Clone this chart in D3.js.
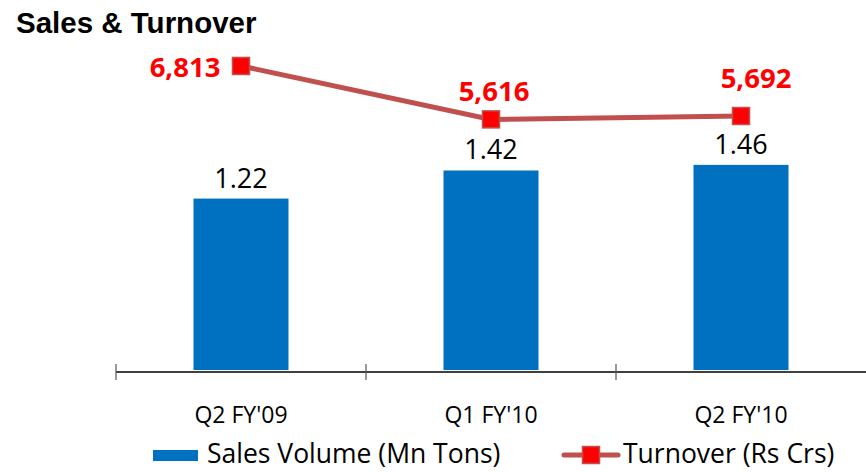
<!DOCTYPE html>
<html>
<head>
<meta charset="utf-8">
<script src="https://cdn.jsdelivr.net/npm/d3@7"></script>
<style>
  body { margin: 0; background: #fff; }
  svg { display: block; }
  .title { font-family: "Liberation Sans", Arial, sans-serif; font-weight: bold; }
  .lbl { font-family: "Open Sans", sans-serif; }
</style>
</head>
<body>
<div id="chart"></div>
<script>
const categories = ["Q2 FY'09", "Q1 FY'10", "Q2 FY'10"];
const salesVolume = [1.22, 1.42, 1.46];
const turnover = [6813, 5616, 5692];
const seriesNames = ["Sales Volume (Mn Tons)", "Turnover (Rs Crs)"];

const width = 866, height = 472;
const blue = '#0070C0', lineCol = '#C0504D', red = '#FF0000';

const svg = d3.select('#chart')
.append('svg')
.attr('width', width)
.attr('height', height);

const data = categories.map((c, i) => ({cat: c, vol: salesVolume[i], turn: turnover[i]}));

const xScale = d3.scaleBand()
.domain(categories)
.range([116, 866])
.paddingInner(0.62)
.paddingOuter(0.31);

const yVol = d3.scaleLinear().domain([0, 2]).range([370, 89]);
const yTurn = d3.scaleLinear().domain([0, 8000]).range([370, 13]);

svg.append('text')
.attr('class', 'title')
.attr('x', 16).attr('y', 33)
.attr('font-size', 29.5)
.text('Sales & Turnover');

// bars
svg.selectAll('rect.bar')
.data(data)
.enter()
.append('rect')
.attr('class', 'bar')
.attr('x', d => xScale(d.cat))
.attr('width', xScale.bandwidth())
.attr('y', d => yVol(d.vol))
.attr('height', d => yVol(0) - yVol(d.vol))
.attr('fill', blue);

svg.selectAll('text.vol')
.data(data)
.enter()
.append('text')
.attr('class', 'lbl vol')
.attr('x', d => xScale(d.cat) + xScale.bandwidth() / 2)
.attr('y', d => yVol(d.vol) - 11)
.attr('text-anchor', 'middle')
.attr('font-size', 27)
.attr('fill', '#000')
.text(d => d.vol.toFixed(2));

// axis
const axisY = 372;
svg.append('line')
.attr('x1', 116).attr('x2', 866)
.attr('y1', axisY).attr('y2', axisY)
.attr('stroke', '#000').attr('stroke-width', 1.5);

const bounds = categories.map(c => xScale(c) - xScale.step() * xScale.paddingInner() / 2);
svg.selectAll('line.tick')
.data(bounds)
.enter()
.append('line')
.attr('class', 'tick')
.attr('x1', d => d).attr('x2', d => d)
.attr('y1', axisY - 8).attr('y2', axisY + 8)
.attr('stroke', '#555').attr('stroke-width', 1.2);

svg.append('g')
.attr('transform', `translate(0,${axisY})`)
.call(d3.axisBottom(xScale).tickSize(0).tickPadding(51))
.call(g => g.select('.domain').remove())
.selectAll('text')
.attr('class', 'lbl')
.attr('font-size', 23)
.attr('fill', '#000')
.attr('dy', 0);

// turnover line
const line = d3.line()
.x(d => xScale(d.cat) + xScale.bandwidth() / 2)
.y(d => yTurn(d.turn));

svg.append('path')
.datum(data)
.attr('d', line)
.attr('fill', 'none')
.attr('stroke', lineCol)
.attr('stroke-width', 5);

const ms = 17;
svg.selectAll('rect.mark')
.data(data)
.enter()
.append('rect')
.attr('class', 'mark')
.attr('x', d => xScale(d.cat) + xScale.bandwidth() / 2 - ms / 2)
.attr('y', d => yTurn(d.turn) - ms / 2)
.attr('width', ms).attr('height', ms)
.attr('fill', red)
.attr('stroke', lineCol)
.attr('stroke-width', 1.5);

const labelOffsets = [[-56, 11], [3, -18], [15, -28]];
svg.selectAll('text.turn')
.data(data)
.enter()
.append('text')
.attr('class', 'lbl turn')
.attr('x', (d, i) => xScale(d.cat) + xScale.bandwidth() / 2 + labelOffsets[i][0])
.attr('y', (d, i) => yTurn(d.turn) + labelOffsets[i][1])
.attr('text-anchor', 'middle')
.attr('font-size', 27.5)
.attr('font-weight', 'bold')
.attr('fill', red)
.text(d => d3.format(',')(d.turn));

// legend
const leg = svg.append('g');
leg.append('rect')
.attr('x', 153).attr('y', 450).attr('width', 45).attr('height', 11)
.attr('fill', blue);
leg.append('text')
.attr('class', 'lbl')
.attr('x', 207).attr('y', 463)
.attr('font-size', 26.5)
.text(seriesNames[0]);

leg.append('line')
.attr('x1', 564).attr('x2', 618).attr('y1', 455).attr('y2', 455)
.attr('stroke', lineCol).attr('stroke-width', 5).attr('stroke-linecap', 'round');
leg.append('rect')
.attr('x', 591 - ms / 2).attr('y', 455 - ms / 2).attr('width', ms).attr('height', ms)
.attr('fill', red).attr('stroke', lineCol).attr('stroke-width', 1.5);
leg.append('text')
.attr('class', 'lbl')
.attr('x', 623).attr('y', 463)
.attr('font-size', 26.5)
.text(seriesNames[1]);
</script>
</body>
</html>
